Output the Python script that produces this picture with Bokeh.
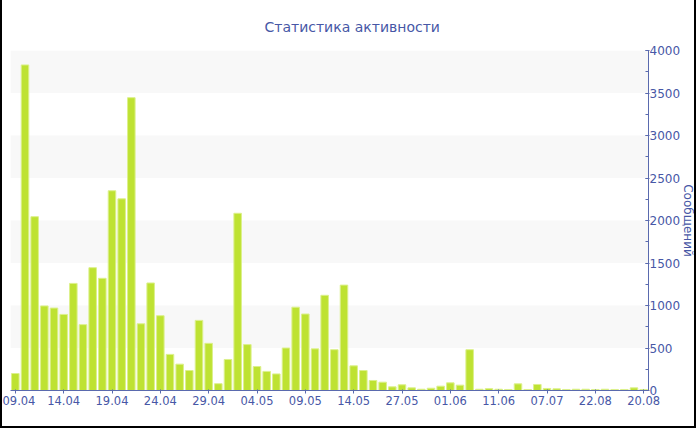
from bokeh.plotting import figure
from bokeh.models import (ColumnDataSource, Range1d, FixedTicker, SingleIntervalTicker,
                          BoxAnnotation)
from bokeh.embed import file_html
from bokeh.resources import INLINE

title_text = "Статистика активности"
y_title = "Сообщений"

categories = [
    "09.04", "10.04", "11.04", "12.04", "13.04", "14.04", "15.04", "16.04", "17.04", "18.04",
    "19.04", "20.04", "21.04", "22.04", "23.04", "24.04", "25.04", "26.04", "27.04", "28.04",
    "29.04", "30.04", "01.05", "02.05", "03.05", "04.05", "05.05", "06.05", "07.05", "08.05",
    "09.05", "10.05", "11.05", "12.05", "13.05", "14.05", "16.05", "18.05", "21.05", "24.05",
    "27.05", "28.05", "29.05", "30.05", "31.05", "01.06", "02.06", "03.06", "05.06", "08.06",
    "11.06", "13.06", "17.06", "21.06", "28.06", "07.07", "12.07", "20.07", "29.07", "10.08",
    "22.08", "25.08", "29.08", "02.09", "12.09", "20.08",
]

messages = [
    200, 3830, 2045, 995, 970, 895, 1260, 775, 1445, 1320,
    2350, 2255, 3445, 785, 1265, 880, 425, 310, 235, 825,
    555, 80, 365, 2085, 540, 282, 225, 195, 500, 980,
    900, 490, 1120, 480, 1240, 290, 235, 118, 98, 43,
    67, 31, 15, 27, 51, 90, 63, 480, 15, 22,
    15, 12, 78, 12, 71, 24, 20, 12, 15, 15,
    12, 15, 12, 12, 31, 12,
]

label_step = 5
y_max = 4000
y_step = 500

src = ColumnDataSource(dict(x=list(range(len(categories))), value=messages, cat=categories))

blue = "#4757a6"
axis_col = "#5a6aae"

p = figure(width=696, height=428, output_backend="svg", toolbar_location=None,
           x_range=Range1d(-0.5, len(categories) - 0.5), y_range=Range1d(0, y_max),
           y_axis_location="right",
           min_border_left=8, min_border_right=48, min_border_top=50, min_border_bottom=38)
p.styles = {"border-left": "2px solid black", "border-right": "2px solid black",
            "border-bottom": "2px solid black"}

p.title.text = title_text
p.title.align = "left"
p.title.offset = 254
p.title.text_font = "DejaVu Sans"
p.title.text_font_size = "14px"
p.title.text_font_style = "normal"
p.title.text_color = blue
p.title.standoff = 31

p.outline_line_color = None
p.background_fill_color = "white"
p.border_fill_color = "white"
p.xgrid.visible = False
p.ygrid.grid_line_color = None

for lo in range(y_step, y_max, 2 * y_step):
    p.add_layout(BoxAnnotation(bottom=lo, top=lo + y_step, fill_color="#f8f8f8",
                               fill_alpha=1, line_color=None, level="underlay"))

p.vbar(x="x", top="value", width=0.78, source=src, fill_color="#bee232",
       line_color="#dcf08c", line_width=1)

ticks = list(range(0, len(categories), label_step))
xa = p.xaxis[0]
xa.ticker = FixedTicker(ticks=ticks)
xa.major_label_overrides = {i: categories[i] for i in ticks}
xa.axis_line_color = axis_col
xa.major_tick_line_color = axis_col
xa.major_tick_out = 3
xa.major_tick_in = 1
xa.minor_tick_line_color = None
xa.major_label_text_font = "DejaVu Sans"
xa.major_label_text_font_size = "11.5px"
xa.major_label_text_color = blue
xa.major_label_standoff = 2

ya = p.yaxis[0]
ya.ticker = SingleIntervalTicker(interval=y_step, num_minor_ticks=2)
ya.axis_line_color = axis_col
ya.major_tick_line_color = axis_col
ya.minor_tick_line_color = axis_col
ya.major_tick_in = 3
ya.major_tick_out = 1
ya.minor_tick_in = 3
ya.minor_tick_out = 0
ya.major_label_text_font = "DejaVu Sans"
ya.major_label_text_font_size = "12px"
ya.major_label_text_color = blue
ya.major_label_standoff = 0
ya.axis_label = y_title
ya.axis_label_text_font = "DejaVu Sans"
ya.axis_label_text_font_size = "12px"
ya.axis_label_text_font_style = "normal"
ya.axis_label_text_color = blue
ya.axis_label_standoff = -2

open("out.html", "w").write(file_html(p, INLINE))
